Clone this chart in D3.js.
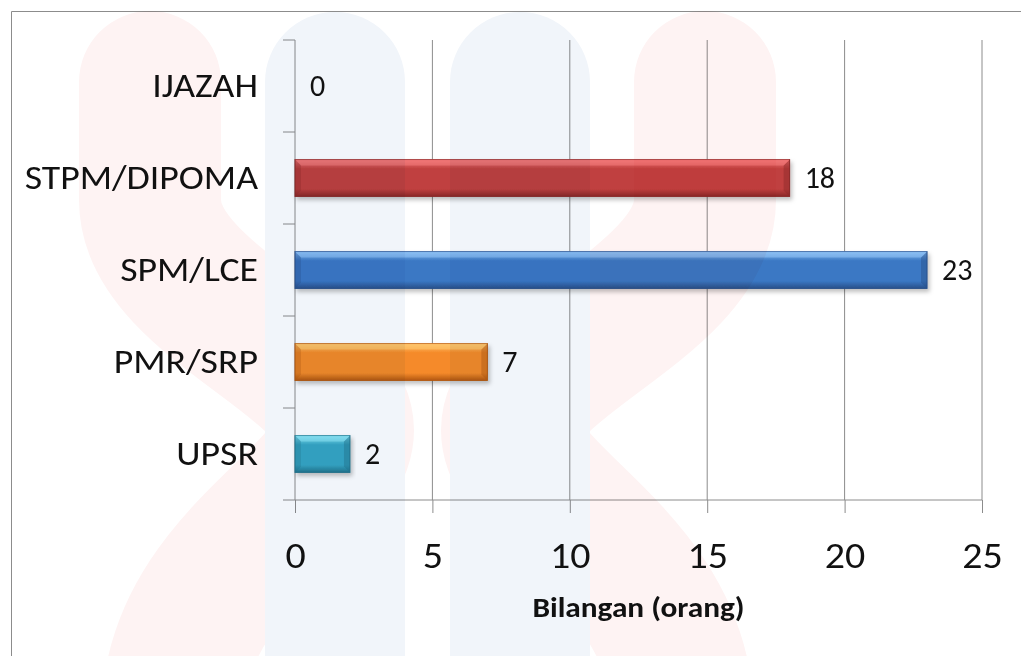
<!DOCTYPE html>
<html>
<head>
<meta charset="utf-8">
<script src="https://cdn.jsdelivr.net/npm/d3@7"></script>
<style>
  body { margin: 0; background: #fff; }
  svg text { font-family: Carlito, Calibri, "Open Sans", sans-serif; fill: #111; }
</style>
</head>
<body>
<div id="chart-container"></div>
<script>
// data
const categories = ["UPSR", "PMR/SRP", "SPM/LCE", "STPM/DIPOMA", "IJAZAH"];
const counts = [2, 7, 23, 18, 0];
const xTicks = [0, 5, 10, 15, 20, 25];
const axisTitle = "Bilangan (orang)";

// bar colours: highlight, body, shade
const barColors = [
    ["#8ae6f4", "#35a6c3", "#22768d"],
    ["#ffc66c", "#f58a2a", "#b35812"],
    ["#8cc0f4", "#3a78c4", "#28508a"],
    ["#f27878", "#c0403f", "#8a2828"],
    ["#cccccc", "#999999", "#666666"]
];

const width = 1021;
const height = 656;
const margin = { top: 40, right: 39, bottom: 156, left: 295 };
const stretch = "scale(1.08,1)"; // the source picture is a bit wider than tall

const svg = d3.select("#chart-container")
    .append("svg")
    .attr("width", width)
    .attr("height", height);

const defs = svg.append("defs");

// gradients for the bevelled bars
barColors.forEach((c, i) => {
    const g = defs.append("linearGradient")
        .attr("id", "grad" + i)
        .attr("x1", 0).attr("y1", 0).attr("x2", 0).attr("y2", 1);
    g.append("stop").attr("offset", "0%").attr("stop-color", c[0]);
    g.append("stop").attr("offset", "25%").attr("stop-color", c[1]);
    g.append("stop").attr("offset", "80%").attr("stop-color", c[1]);
    g.append("stop").attr("offset", "100%").attr("stop-color", c[2]);
});

const shadow = defs.append("filter").attr("id", "shadow")
    .attr("x", "-5%").attr("y", "-20%").attr("width", "115%").attr("height", "160%");
shadow.append("feDropShadow")
    .attr("dx", 2).attr("dy", 3).attr("stdDeviation", 2)
    .attr("flood-color", "#000").attr("flood-opacity", 0.25);

// outer frame
svg.append("path")
    .attr("d", `M11.5,${height + 5}V11.5H${width + 5}`)
    .attr("fill", "none")
    .attr("stroke", "#8c8c8c");

const x = d3.scaleLinear()
    .domain([0, 25])
    .range([margin.left, width - margin.right]);

const y = d3.scaleBand()
    .domain(categories)
    .range([height - margin.bottom, margin.top])
    .paddingInner(0.6)
    .paddingOuter(0.3);

const step = y.step();
const bw = y.bandwidth();

// gridlines
svg.append("g")
    .selectAll("line")
    .data(xTicks.slice(1))
    .enter()
    .append("line")
    .attr("x1", (d) => x(d)).attr("x2", (d) => x(d))
    .attr("y1", margin.top).attr("y2", height - margin.bottom)
    .attr("stroke", "#8c8c8c");

// x axis
const xAxis = svg.append("g")
    .attr("transform", `translate(0, ${height - margin.bottom})`)
    .call(d3.axisBottom(x).tickValues(xTicks).tickSize(13).tickPadding(43).tickSizeOuter(0));
xAxis.select(".domain").remove();
xAxis.selectAll(".tick line").attr("stroke", "#8c8c8c");
xAxis.selectAll(".tick text")
    .attr("font-size", 37)
    .attr("dy", "0.32em")
    .attr("transform", stretch);
xAxis.append("line")
    .attr("x1", margin.left - 12).attr("x2", x(25))
    .attr("stroke", "#8c8c8c");

// y axis line + category boundary ticks
const yAxis = svg.append("g");
yAxis.append("line")
    .attr("x1", margin.left).attr("x2", margin.left)
    .attr("y1", margin.top).attr("y2", height - margin.bottom)
    .attr("stroke", "#8c8c8c");
yAxis.selectAll(".bt")
    .data(categories)
    .enter()
    .append("line")
    .attr("class", "bt")
    .attr("x1", margin.left - 12).attr("x2", margin.left)
    .attr("y1", (d) => y(d) - (step - bw) / 2)
    .attr("y2", (d) => y(d) - (step - bw) / 2)
    .attr("stroke", "#8c8c8c");

yAxis.selectAll(".cat")
    .data(categories)
    .enter()
    .append("g")
    .attr("class", "cat")
    .attr("transform", (d) => `translate(${margin.left - 37}, ${y(d) + bw / 2}) ${stretch}`)
    .append("text")
    .attr("dy", "0.3em")
    .attr("text-anchor", "end")
    .attr("font-size", 35)
    .text((d) => d);

// bars
const bars = svg.append("g")
    .selectAll("g")
    .data(categories.map((c, i) => ({ cat: c, v: counts[i], i: i })))
    .enter()
    .append("g")
    .filter((d) => d.v > 0);

bars.append("rect")
    .attr("x", x(0))
    .attr("y", (d) => y(d.cat))
    .attr("width", (d) => x(d.v) - x(0))
    .attr("height", bw)
    .attr("fill", (d) => `url(#grad${d.i})`)
    .attr("stroke", (d) => barColors[d.i][2])
    .attr("stroke-width", 1)
    .attr("filter", "url(#shadow)");

// bevel edges
const b = 6;
bars.append("path")
    .attr("d", (d) => {
        const x1 = x(d.v), y0 = y(d.cat), y1 = y0 + bw;
        return `M${x1},${y0}L${x1 - b},${y0 + b}L${x1 - b},${y1 - b}L${x1},${y1}Z`;
    })
    .attr("fill", (d) => barColors[d.i][2])
    .attr("opacity", 0.45);
bars.append("path")
    .attr("d", (d) => {
        const x0 = x(0), x1 = x(d.v), y0 = y(d.cat);
        return `M${x0},${y0}L${x1},${y0}L${x1 - b},${y0 + b}L${x0 + b},${y0 + b}Z`;
    })
    .attr("fill", (d) => barColors[d.i][0])
    .attr("opacity", 0.6);
bars.append("path")
    .attr("d", (d) => {
        const x0 = x(0), y0 = y(d.cat), y1 = y0 + bw;
        return `M${x0},${y0}L${x0 + b},${y0 + b}L${x0 + b},${y1 - b}L${x0},${y1}Z`;
    })
    .attr("fill", (d) => barColors[d.i][2])
    .attr("opacity", 0.3);

// value labels
svg.append("g")
    .selectAll("text")
    .data(categories.map((c, i) => ({ cat: c, v: counts[i] })))
    .enter()
    .append("text")
    .attr("x", (d) => x(d.v) + 15)
    .attr("y", (d) => y(d.cat) + bw / 2)
    .attr("dy", "0.33em")
    .attr("font-size", 30)
    .text((d) => d.v);

// axis title
svg.append("g")
    .attr("transform", `translate(${x(12.5)}, 617) ${stretch}`)
    .append("text")
    .attr("text-anchor", "middle")
    .attr("font-size", 29)
    .attr("font-weight", "bold")
    .text(axisTitle);

// faint watermark laid over everything
const wm = svg.append("g").style("mix-blend-mode", "multiply").attr("pointer-events", "none");
const pink = "#fef3f3";
const blue = "#f1f5fa";
wm.append("path")
    .attr("d", "M150,82 L150,200 C150,300 343,360 343,430 C343,500 172,560 172,720")
    .attr("fill", "none").attr("stroke", pink).attr("stroke-width", 142).attr("stroke-linecap", "round");
wm.append("path")
    .attr("d", "M705,82 L705,200 C705,300 512,360 512,430 C512,500 683,560 683,720")
    .attr("fill", "none").attr("stroke", pink).attr("stroke-width", 142).attr("stroke-linecap", "round");
wm.append("path")
    .attr("d", "M335,82 L335,720")
    .attr("fill", "none").attr("stroke", blue).attr("stroke-width", 140).attr("stroke-linecap", "round");
wm.append("path")
    .attr("d", "M520,82 L520,720")
    .attr("fill", "none").attr("stroke", blue).attr("stroke-width", 140).attr("stroke-linecap", "round");
</script>
</body>
</html>
